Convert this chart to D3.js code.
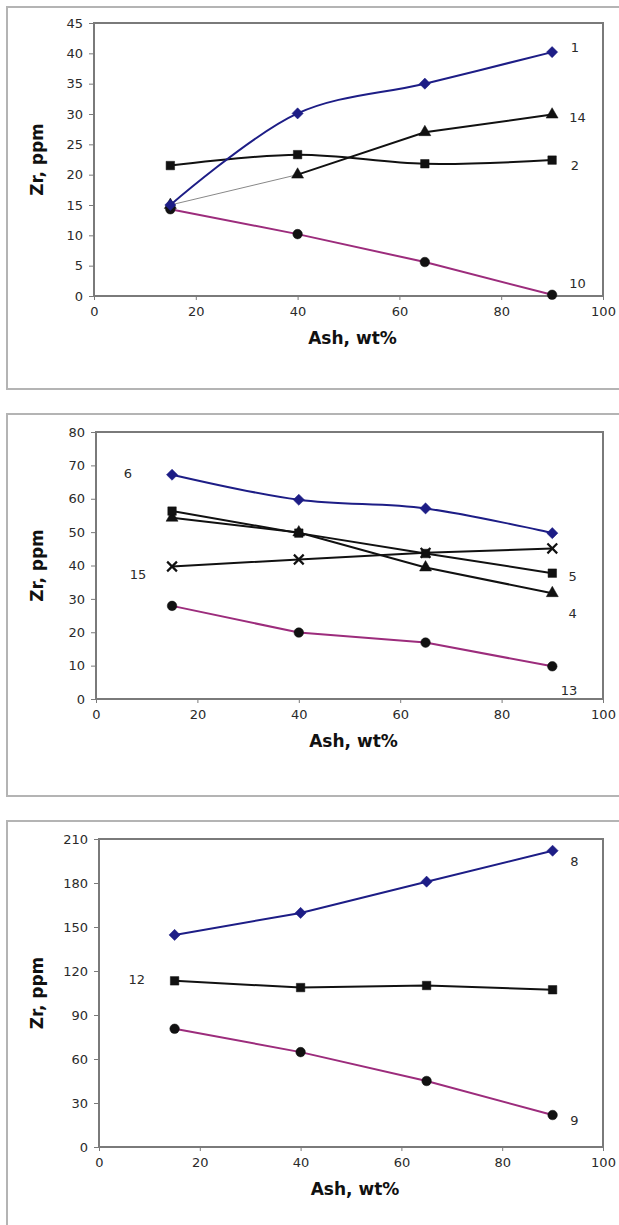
<!DOCTYPE html>
<html lang="en">
<head>
  <meta charset="UTF-8">
  <title>Zr vs Ash</title>
  <script src="https://d3js.org/d3.v7.min.js"></script>
  <style>
    body { margin: 0; padding: 0; background: #fff; }
    svg { display: block; }
    .tick text { font-family: "DejaVu Sans", sans-serif; font-size: 13px; fill: #2a2a2a; }
    .title { font-family: "DejaVu Sans", sans-serif; font-weight: bold; font-size: 17px; fill: #111; }
    .lbl { font-family: "DejaVu Sans", sans-serif; font-size: 13px; fill: #2a2a2a; }
  </style>
</head>
<body>
  <script>
    // ash content, wt% (same for every series)
    const ash = [15, 40, 65, 90];

    // panel 1
    const p1s1 = [15.0, 30.1, 35.0, 40.2];
    const p1s14 = [15.0, 20.0, 27.0, 29.9];
    const p1s2 = [21.5, 23.3, 21.8, 22.4];
    const p1s10 = [14.3, 10.2, 5.6, 0.2];

    // panel 2
    const p2s6 = [67.2, 59.7, 57.1, 49.7];
    const p2s5 = [56.3, 49.7, 43.6, 37.7];
    const p2s4 = [54.3, 49.9, 39.4, 31.7];
    const p2s15 = [39.7, 41.8, 43.8, 45.1];
    const p2s13 = [27.9, 19.9, 16.9, 9.8];

    // panel 3
    const p3s8 = [144.6, 159.6, 180.9, 202.0];
    const p3s12 = [113.3, 108.7, 110.1, 107.2];
    const p3s9 = [80.6, 64.7, 45.0, 21.8];

    // curve labels, in data units [ash, Zr]
    const p1labels = [["1", 94.5, 40.9], ["14", 95, 29.5], ["2", 94.5, 21.6], ["10", 95, 2.1]];
    const p2labels = [["6", 6.3, 67.7], ["15", 8.3, 37.4], ["5", 94, 36.8], ["4", 94, 25.7], ["13", 93.3, 2.7]];
    const p3labels = [["8", 94.3, 195], ["12", 7.5, 114], ["9", 94.3, 18.4]];

    const xTicks = [0, 20, 40, 60, 80, 100];
    const p1yTicks = d3.range(0, 46, 5);
    const p2yTicks = d3.range(0, 81, 10);
    const p3yTicks = d3.range(0, 211, 30);

    const BLUE = "#1d1d86", MAG = "#9c2c7c", BLK = "#111";

    const svg = d3.select("body").append("svg")
      .attr("width", 619).attr("height", 1225);

    function marker(type) {
      if (type === "diamond") return d3.symbol(d3.symbolSquare, 62)();
      if (type === "square") return d3.symbol(d3.symbolSquare, 72)();
      if (type === "triangle") return d3.symbol(d3.symbolTriangle, 62)();
      if (type === "circle") return d3.symbol(d3.symbolCircle, 72)();
      return d3.symbol(d3.symbolX, 64)();
    }

    function drawPanel(p) {
      // outer chart frame
      svg.append("rect")
        .attr("x", 7).attr("y", p.frameTop)
        .attr("width", 620).attr("height", p.frameH)
        .attr("fill", "none").attr("stroke", "#b4b4b4").attr("stroke-width", 2);

      const x = d3.scaleLinear().domain([0, 100]).range([p.left, 603]);
      const y = d3.scaleLinear().domain([0, p.ymax]).range([p.bottom, p.top]);

      // plot area border
      svg.append("rect")
        .attr("x", p.left).attr("y", p.top)
        .attr("width", 603 - p.left).attr("height", p.bottom - p.top)
        .attr("fill", "none").attr("stroke", "#7a7a7a").attr("stroke-width", 2);

      svg.append("g")
        .attr("transform", `translate(0,${p.bottom})`)
        .call(d3.axisBottom(x).tickValues(xTicks).tickSize(4).tickPadding(7))
        .call(g => g.select(".domain").remove())
        .call(g => g.selectAll("line").attr("stroke", "#7a7a7a"));

      svg.append("g")
        .attr("transform", `translate(${p.left},0)`)
        .call(d3.axisLeft(y).tickValues(p.yTicks).tickSize(5).tickPadding(6))
        .call(g => g.select(".domain").remove())
        .call(g => g.selectAll("line").attr("stroke", "#7a7a7a"));

      svg.append("text").attr("class", "title")
        .attr("x", (p.left + 603) / 2 + 4).attr("y", p.bottom + 48)
        .attr("text-anchor", "middle").text("Ash, wt%");

      svg.append("text").attr("class", "title")
        .attr("transform", `translate(43,${(p.top + p.bottom) / 2}) rotate(-90)`)
        .attr("text-anchor", "middle").text("Zr, ppm");

      p.series.forEach(s => {
        const pts = ash.map((a, i) => [x(a), y(s.values[i])]);
        const line = d3.line().curve(s.smooth ? d3.curveCatmullRom.alpha(0.5) : d3.curveLinear);
        if (s.thinFirst) {
          svg.append("path").attr("d", line(pts.slice(0, 2)))
            .attr("fill", "none").attr("stroke", "#888").attr("stroke-width", 1);
          svg.append("path").attr("d", line(pts.slice(1)))
            .attr("fill", "none").attr("stroke", s.color).attr("stroke-width", 2);
        } else {
          svg.append("path").attr("d", line(pts))
            .attr("fill", "none").attr("stroke", s.color).attr("stroke-width", 2);
        }
      });

      p.series.forEach(s => {
        svg.append("g").selectAll("path")
          .data(ash.map((a, i) => [a, s.values[i]]))
          .join("path")
            .attr("transform", d => `translate(${x(d[0])},${y(d[1])})` + (s.marker === "diamond" ? " rotate(45)" : ""))
            .attr("d", marker(s.marker))
            .attr("fill", s.marker === "x" ? "none" : s.mcolor)
            .attr("stroke", s.mcolor)
            .attr("stroke-width", s.marker === "x" ? 2.2 : 0.5);
      });

      svg.append("g").selectAll("text")
        .data(p.labels)
        .join("text")
          .attr("class", "lbl")
          .attr("x", d => x(d[1])).attr("y", d => y(d[2]))
          .attr("text-anchor", "middle").attr("dy", "0.35em")
          .text(d => d[0]);
    }

    drawPanel({
      frameTop: 7, frameH: 382, left: 94, top: 23, bottom: 296,
      ymax: 45, yTicks: p1yTicks, labels: p1labels,
      series: [
        { values: p1s14, color: BLK, mcolor: BLK, marker: "triangle", thinFirst: true },
        { values: p1s2, color: BLK, mcolor: BLK, marker: "square", smooth: true },
        { values: p1s10, color: MAG, mcolor: BLK, marker: "circle" },
        { values: p1s1, color: BLUE, mcolor: BLUE, marker: "diamond", smooth: true }
      ]
    });

    drawPanel({
      frameTop: 414, frameH: 382, left: 96, top: 432, bottom: 699,
      ymax: 80, yTicks: p2yTicks, labels: p2labels,
      series: [
        { values: p2s4, color: BLK, mcolor: BLK, marker: "triangle" },
        { values: p2s5, color: BLK, mcolor: BLK, marker: "square" },
        { values: p2s15, color: BLK, mcolor: BLK, marker: "x" },
        { values: p2s13, color: MAG, mcolor: BLK, marker: "circle" },
        { values: p2s6, color: BLUE, mcolor: BLUE, marker: "diamond", smooth: true }
      ]
    });

    drawPanel({
      frameTop: 821, frameH: 420, left: 99, top: 839, bottom: 1147,
      ymax: 210, yTicks: p3yTicks, labels: p3labels,
      series: [
        { values: p3s12, color: BLK, mcolor: BLK, marker: "square" },
        { values: p3s9, color: MAG, mcolor: BLK, marker: "circle" },
        { values: p3s8, color: BLUE, mcolor: BLUE, marker: "diamond" }
      ]
    });
  </script>
</body>
</html>
